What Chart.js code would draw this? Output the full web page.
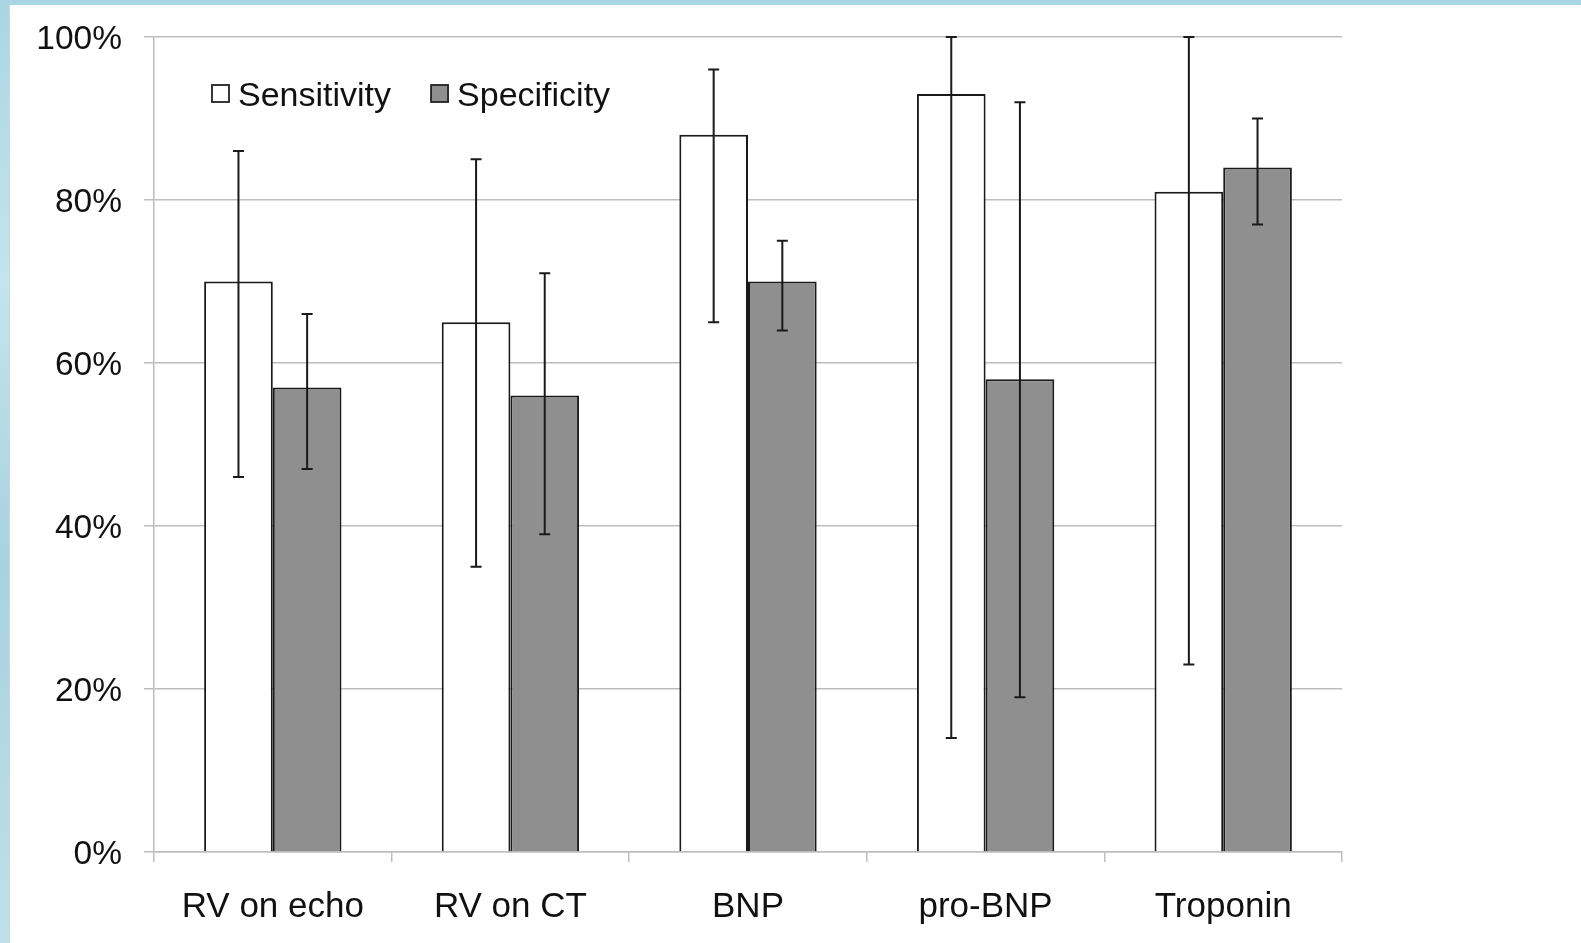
<!DOCTYPE html>
<html lang="en">
<head>
    <meta charset="UTF-8">
    <title>Sensitivity and specificity</title>
    <script src="https://cdn.jsdelivr.net/npm/chart.js"></script>
    <style>
        html, body {
            margin: 0;
            padding: 0;
            width: 1581px;
            height: 943px;
            overflow: hidden;
            background: linear-gradient(180deg, #a9d6e3 0%, #c3e4ec 30%, #a7d2df 60%, #bfe0e8 100%);
        }
        #paper {
            position: absolute;
            left: 9px;
            top: 5px;
            right: 0;
            bottom: 0;
            background: #fff;
            border-left: 1px solid #c9d6da;
        }
        #chart {
            position: absolute;
            left: 0;
            top: 0;
        }
    </style>
</head>
<body>
    <div id="paper"></div>
    <canvas id="chart" width="1581" height="943"></canvas>
    <script>
        // data (percent)
        const categories = ['RV on echo', 'RV on CT', 'BNP', 'pro-BNP', 'Troponin'];
        const sensitivity = [70, 65, 88, 93, 81];
        const sensLow = [46, 35, 65, 14, 23];
        const sensHigh = [86, 85, 96, 100, 100];
        const specificity = [57, 56, 70, 58, 84];
        const specLow = [47, 39, 64, 19, 77];
        const specHigh = [66, 71, 75, 92, 90];
        const yTicks = [0, 20, 40, 60, 80, 100];

        const FONT = '"Liberation Sans", Arial, Helvetica, sans-serif';

        // error bars drawn from the bar elements and the y scale
        const errorBars = {
            id: 'errorBars',
            afterDatasetsDraw(chart) {
                const ctx = chart.ctx;
                const y = chart.scales.y;
                ctx.save();
                ctx.strokeStyle = '#1a1a1a';
                ctx.lineWidth = 2;
                chart.data.datasets.forEach((ds, i) => {
                    const meta = chart.getDatasetMeta(i);
                    meta.data.forEach((bar, j) => {
                        const top = y.getPixelForValue(ds.errHigh[j]);
                        const bot = y.getPixelForValue(ds.errLow[j]);
                        ctx.beginPath();
                        ctx.moveTo(bar.x, top);
                        ctx.lineTo(bar.x, bot);
                        ctx.moveTo(bar.x - 5.5, top);
                        ctx.lineTo(bar.x + 5.5, top);
                        ctx.moveTo(bar.x - 5.5, bot);
                        ctx.lineTo(bar.x + 5.5, bot);
                        ctx.stroke();
                    });
                });
                ctx.restore();
            }
        };

        // legend inside the plot area, top left
        const insideLegend = {
            id: 'insideLegend',
            afterDraw(chart) {
                const ctx = chart.ctx;
                const area = chart.chartArea;
                let x = area.left + 58;
                const yMid = area.top + 57;
                ctx.save();
                ctx.font = '34px ' + FONT;
                ctx.textBaseline = 'middle';
                chart.data.datasets.forEach(ds => {
                    ctx.fillStyle = ds.backgroundColor;
                    ctx.strokeStyle = '#222';
                    ctx.lineWidth = 1.8;
                    ctx.fillRect(x, yMid - 9, 17, 17);
                    ctx.strokeRect(x, yMid - 9, 17, 17);
                    ctx.fillStyle = '#111';
                    ctx.fillText(ds.label, x + 26, yMid + 3);
                    x += 26 + ctx.measureText(ds.label).width + 40;
                });
                ctx.restore();
            }
        };

        const ctx = document.getElementById('chart').getContext('2d');
        new Chart(ctx, {
            type: 'bar',
            data: {
                labels: categories,
                datasets: [{
                    label: 'Sensitivity',
                    data: sensitivity,
                    errLow: sensLow,
                    errHigh: sensHigh,
                    backgroundColor: '#ffffff',
                    borderColor: '#1a1a1a',
                    borderWidth: 2
                }, {
                    label: 'Specificity',
                    data: specificity,
                    errLow: specLow,
                    errHigh: specHigh,
                    backgroundColor: '#8f8f8f',
                    borderColor: '#1a1a1a',
                    borderWidth: 2
                }]
            },
            options: {
                responsive: false,
                animation: false,
                devicePixelRatio: 1,
                layout: {
                    padding: { left: 0, top: 37, right: 239, bottom: 0 }
                },
                categoryPercentage: 0.578,
                barPercentage: 1.0,
                plugins: {
                    legend: { display: false },
                    tooltip: { enabled: false }
                },
                scales: {
                    x: {
                        afterFit(scale) { scale.height = 91; },
                        grid: {
                            display: true,
                            offset: true,
                            drawOnChartArea: false,
                            drawTicks: true,
                            tickLength: 10,
                            color: '#bdbdbd',
                            lineWidth: 1.5
                        },
                        border: { color: '#bdbdbd', width: 1.5 },
                        ticks: {
                            color: '#111',
                            padding: 24,
                            font: { family: FONT, size: 35 }
                        }
                    },
                    y: {
                        min: 0,
                        max: 100,
                        afterFit(scale) {
                            scale.width = 154;
                            scale.paddingTop = 0;
                            scale.paddingBottom = 0;
                        },
                        afterBuildTicks(scale) {
                            scale.ticks = yTicks.map(v => ({ value: v }));
                        },
                        grid: {
                            color: '#bdbdbd',
                            lineWidth: 1.5,
                            tickLength: 10
                        },
                        border: { color: '#bdbdbd', width: 1.5 },
                        ticks: {
                            color: '#111',
                            padding: 22,
                            labelOffset: 3,
                            font: { family: FONT, size: 33.5 },
                            callback: v => v + '%'
                        }
                    }
                }
            },
            plugins: [errorBars, insideLegend]
        });
    </script>
</body>
</html>
